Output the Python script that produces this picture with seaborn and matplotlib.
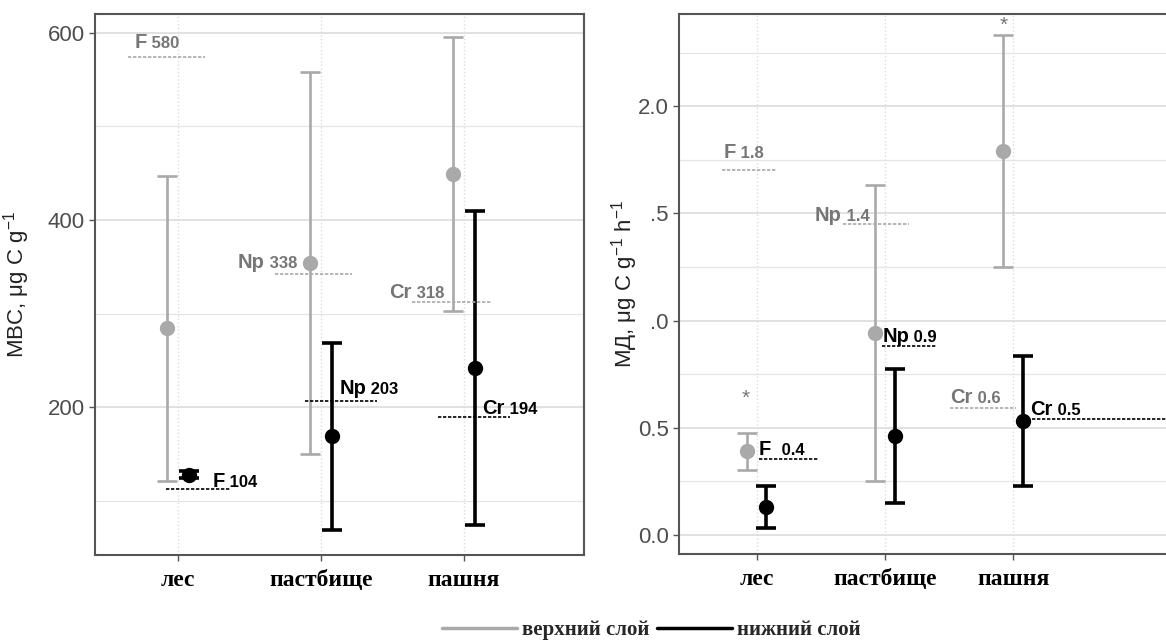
import numpy as np
import pandas as pd
import matplotlib
matplotlib.use("Agg")
import matplotlib.pyplot as plt
import seaborn as sns
from matplotlib.lines import Line2D

# ---------------- data ----------------
categories = ["лес", "пастбище", "пашня"]
layers = ["верхний слой", "нижний слой"]

mbc_upper_mean = [284, 354, 449]
mbc_upper_err = [163, 204, 146]
mbc_lower_mean = [128, 169, 242]
mbc_lower_err = [4, 100, 168]

md_upper_mean = [0.39, 0.94, 1.79]
md_upper_err = [0.086, 0.69, 0.54]
md_lower_mean = [0.13, 0.46, 0.53]
md_lower_err = [0.097, 0.313, 0.303]

# reference (dotted) lines with labels
mbc_ref_prefix = ["F", "Np", "Cr", "F", "Np", "Cr"]
mbc_ref_text = ["580", "338", "318", "104", "203", "194"]
mbc_ref_value = [574, 342, 312, 112, 207, 189]
mbc_ref_layer = [0, 0, 0, 1, 1, 1]

md_ref_prefix = ["F", "Np", "Cr", "F ", "Np", "Cr"]
md_ref_text = ["1.8", "1.4", "0.6", "0.4", "0.9", "0.5"]
md_ref_value = [1.70, 1.45, 0.59, 0.353, 0.879, 0.54]
md_ref_layer = [0, 0, 0, 1, 1, 1]

mbc_yticks = [200, 400, 600]
mbc_yticklabels = ["200", "400", "600"]
md_yticks = [0.0, 0.5, 1.0, 1.5, 2.0]
md_yticklabels = ["0.0", "0.5", ".0", ".5", "2.0"]

# ---------------- layout (positions / styles) ----------------
mbc_ref_span = [(-0.35, 0.19), (0.68, 1.22), (1.64, 2.20), (-0.08, 0.37), (0.89, 1.39), (1.82, 2.32)]
# (x, baseline y) of the label text
mbc_label_pos = [(-0.30, 584), (0.42, 349), (1.48, 317), (0.245, 115), (1.13, 214), (2.13, 193)]
md_ref_span = [(-0.27, 0.16), (0.67, 1.19), (1.51, 2.02), (0.02, 0.48), (0.98, 1.40), (2.07, 3.6)]
md_label_pos = [(-0.26, 1.756), (0.455, 1.466), (1.51, 0.616), (0.02, 0.373), (0.98, 0.901), (2.135, 0.561)]
md_star_pos = [(-0.083, 0.638), (1.93, 2.375)]

GRAY = "#a9a9a9"
GRAY_TXT = "#767676"
colors = [GRAY, "black"]
line_w = [1.9, 2.6]
label_colors = [GRAY_TXT, "black"]

W, H = 1166, 641
fig = plt.figure(figsize=(W / 100, H / 100), dpi=100)
sns.set_style("white")
plt.rcParams["font.family"] = ["Liberation Sans", "DejaVu Sans"]

ax1 = fig.add_axes([95 / W, 1 - 555 / H, (584 - 95) / W, (555 - 14) / H])
ax2 = fig.add_axes([679 / W, 1 - 554 / H, 525 / W, (554 - 14) / H])


def panel(ax, up_m, up_e, lo_m, lo_e, xlim, ylim, yticks, yticklabels, minor,
          ref_pre, ref_txt, ref_val, ref_layer, ref_span, lab_pos, ylabel, ylab_x):
    df = pd.DataFrame({
        "cat": categories * 2,
        "layer": [layers[0]] * 3 + [layers[1]] * 3,
        "val": list(up_m) + list(lo_m),
        "err": list(up_e) + list(lo_e),
    })
    sns.pointplot(data=df, x="cat", y="val", hue="layer", order=categories,
                  hue_order=layers, palette=colors, dodge=0.15, linestyle="none",
                  errorbar=None, markers="o", markersize=9, ax=ax, legend=False)
    pts = [l for l in ax.lines][:2]
    for i, ln in enumerate(pts):
        xs = ln.get_xdata()
        sub = df[df["layer"] == layers[i]]
        ax.errorbar(xs, sub["val"].values, yerr=sub["err"].values, fmt="none",
                    ecolor=colors[i], elinewidth=line_w[i], capsize=7.5,
                    capthick=line_w[i], zorder=2)
        ln.set_zorder(4)
    for k in range(len(ref_val)):
        c = colors[ref_layer[k]]
        ax.hlines(ref_val[k], ref_span[k][0], ref_span[k][1], colors=c,
                  linestyles=(0, (2, 1)), linewidth=1.2, zorder=3)
        tc = label_colors[ref_layer[k]]
        t = ax.text(lab_pos[k][0], lab_pos[k][1], ref_pre[k], fontsize=14.5,
                    fontweight="bold", color=tc, ha="left", va="baseline", zorder=5)
        ax.annotate(" " + ref_txt[k], xy=(1, lab_pos[k][1]), xycoords=(t, "data"),
                    fontsize=12, fontweight="bold", color=tc, ha="left",
                    va="baseline", zorder=5)
    ax.set_xlim(*xlim)
    ax.set_ylim(*ylim)
    ax.set_yticks(yticks)
    ax.set_yticklabels(yticklabels)
    ax.set_yticks(minor, minor=True)
    ax.set_xticks(range(len(categories)))
    ax.set_xticklabels(categories, fontfamily="Liberation Serif",
                       fontweight="bold", fontsize=17, color="black")
    ax.tick_params(axis="y", which="major", labelsize=16, labelcolor="#4d4d4d",
                   length=4, width=1, color="#555555", left=True)
    ax.tick_params(axis="y", which="minor", length=0)
    ax.tick_params(axis="x", length=4, width=1, color="#555555", bottom=True, pad=7)
    ax.grid(True, axis="y", which="major", color="#dcdcdc", linewidth=1.2)
    ax.grid(True, axis="y", which="minor", color="#e6e6e6", linewidth=0.9)
    ax.grid(True, axis="x", which="major", color="#dcdcdc", linewidth=1.0, linestyle=":")
    ax.set_axisbelow(True)
    for s in ax.spines.values():
        s.set_color("#555555")
        s.set_linewidth(1.5)
        s.set_visible(True)
    ax.set_xlabel("")
    ax.set_ylabel(ylabel, fontsize=16, color="#222222")
    ax.yaxis.set_label_coords(ylab_x, 0.5)


panel(ax1, mbc_upper_mean, mbc_upper_err, mbc_lower_mean, mbc_lower_err,
      (-0.58, 2.84), (42, 620), mbc_yticks, mbc_yticklabels, [100, 300, 500],
      mbc_ref_prefix, mbc_ref_text, mbc_ref_value, mbc_ref_layer, mbc_ref_span,
      mbc_label_pos, "MBC, μg C g$^{\\mathregular{-1}}$", -0.129)

panel(ax2, md_upper_mean, md_upper_err, md_lower_mean, md_lower_err,
      (-0.607, 3.49), (-0.089, 2.43), md_yticks, md_yticklabels,
      [0.25, 0.75, 1.25, 1.75, 2.25],
      md_ref_prefix, md_ref_text, md_ref_value, md_ref_layer, md_ref_span,
      md_label_pos, "МД, μg C g$^{\\mathregular{-1}}$ h$^{\\mathregular{-1}}$", -0.074)

for (sx, sy) in md_star_pos:
    ax2.text(sx, sy, "*", fontsize=15, color="#777777", ha="center", va="center")

handles = [Line2D([0], [0], color=colors[0], lw=2.5),
           Line2D([0], [0], color=colors[1], lw=2.5)]
fig.legend(handles, layers, loc="center", bbox_to_anchor=(651 / W, 1 - 630 / H),
           ncol=2, frameon=False, handlelength=3.6, handletextpad=0.25,
           columnspacing=0.35,
           prop={"family": "Liberation Serif", "weight": "bold", "size": 15})

fig.savefig("out.png", dpi=100)
